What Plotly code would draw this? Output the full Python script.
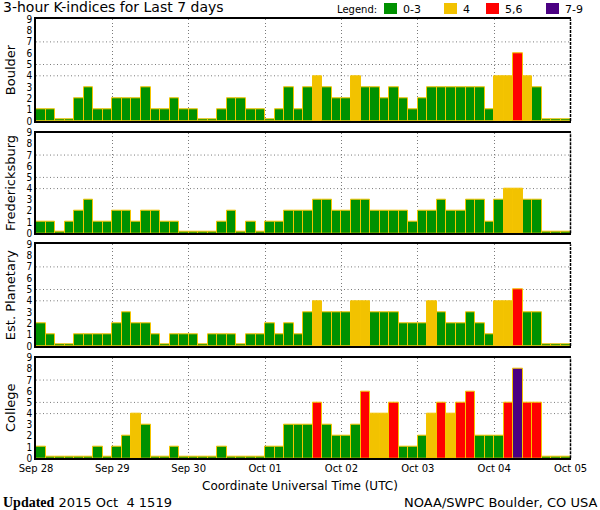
import plotly.graph_objects as go
import pandas as pd

# ---- data (3-hour K-indices, 8 per day, Sep 28 .. Oct 04) ----
day_labels = ["Sep 28", "Sep 29", "Sep 30", "Oct 01", "Oct 02", "Oct 03", "Oct 04", "Oct 05"]
start_day = "2015-09-28"

boulder = [1, 1, 0, 0, 2, 3, 1, 1,
           2, 2, 2, 3, 1, 1, 2, 1,
           1, 0, 0, 1, 2, 2, 1, 1,
           0, 1, 3, 1, 3, 4, 3, 2,
           2, 4, 3, 3, 2, 3, 2, 1,
           2, 3, 3, 3, 3, 3, 3, 1,
           4, 4, 6, 4, 3, 0, 0, 0]
fredericksburg = [1, 1, 0, 1, 2, 3, 1, 1,
                  2, 2, 1, 2, 2, 1, 1, 0,
                  0, 0, 0, 1, 2, 0, 1, 0,
                  1, 1, 2, 2, 2, 3, 3, 2,
                  2, 3, 3, 2, 2, 2, 2, 1,
                  2, 2, 3, 2, 2, 3, 3, 1,
                  3, 4, 4, 3, 3, 0, 0, 0]
planetary = [2, 1, 0, 0, 1, 1, 1, 1,
             2, 3, 2, 2, 1, 0, 1, 1,
             1, 0, 1, 1, 1, 0, 1, 1,
             2, 1, 2, 1, 3, 4, 3, 3,
             3, 4, 4, 3, 3, 3, 2, 2,
             2, 4, 3, 2, 2, 3, 2, 1,
             4, 4, 5, 3, 3, 0, 0, 0]
college = [1, 0, 0, 0, 0, 0, 1, 0,
           1, 2, 4, 3, 0, 0, 1, 0,
           0, 0, 0, 1, 0, 0, 0, 0,
           1, 1, 3, 3, 3, 5, 3, 2,
           2, 3, 6, 4, 4, 5, 1, 1,
           2, 4, 5, 4, 5, 6, 2, 2,
           2, 5, 8, 5, 5, 0, 0, 0]

station_names = ["Boulder", "Fredericksburg", "Est. Planetary", "College"]
station_values = [boulder, fredericksburg, planetary, college]
y_ticks = [0, 1, 2, 3, 4, 5, 6, 7, 8, 9]
grid_levels = [4, 5, 7]

legend_labels = ["0-3", "4", "5,6", "7-9"]

# ---- styles ----
GREEN = "#009100"
YELLOW = "#f2c200"
RED = "#ff0000"
PURPLE = "#4b0082"
legend_colors = [GREEN, YELLOW, RED, PURPLE]
OUTLINE = "#f5c400"
GRID = "#7a7a7a"
DOT = "1px,2.5px"
FONT = "DejaVu Sans"


def kcolor(v):
    if v <= 3:
        return GREEN
    if v == 4:
        return YELLOW
    if v <= 6:
        return RED
    return PURPLE


times = pd.date_range(start_day, periods=56, freq="3h") + pd.Timedelta(hours=1.5)
day_ticks = pd.date_range(start_day, periods=8, freq="D")
x_start, x_end = day_ticks[0], day_ticks[-1]
bar_width_ms = 3 * 3600 * 1000

W, H = 600, 510
x_dom = [36 / W, 570.5 / W]
# panel top/bottom in pixels
panel_px = [(19.3, 121.0), (132.7, 233.3), (244.3, 346.0), (357.7, 458.3)]

fig = go.Figure()
shapes = []
annotations = []

for k, (name, vals) in enumerate(zip(station_names, station_values)):
    idx = "" if k == 0 else str(k + 1)
    xa, ya = "x" + idx, "y" + idx
    disp = [v if v > 0 else 0.16 for v in vals]
    fig.add_trace(go.Bar(
        x=times, y=disp, width=bar_width_ms,
        marker=dict(color=[kcolor(v) for v in vals],
                    line=dict(color=OUTLINE, width=1)),
        xaxis=xa, yaxis=ya, showlegend=False,
        customdata=vals, hovertemplate="%{x}<br>K=%{customdata}<extra></extra>",
    ))
    top, bot = panel_px[k]
    y_dom = [1 - bot / H, 1 - top / H]
    last = (k == 3)
    fig.layout["xaxis" + idx] = dict(
        domain=x_dom, anchor=ya, type="date",
        range=[x_start, x_end], automargin=False,
        tickmode="array", tickvals=list(day_ticks), ticktext=day_labels,
        showticklabels=last, ticks="",
        tickfont=dict(family=FONT, size=10, color="black"),
        showgrid=True, gridcolor=GRID, griddash=DOT, gridwidth=1,
        showline=True, linecolor="black", linewidth=1.5, mirror=True,
        zeroline=False, fixedrange=True,
    )
    fig.layout["yaxis" + idx] = dict(
        domain=y_dom, anchor=xa, range=[0, 9], automargin=False,
        tickmode="array", tickvals=y_ticks, ticks="",
        tickfont=dict(family="DejaVu Sans Condensed, DejaVu Sans", size=10, color="black"),
        showgrid=False, zeroline=False,
        showline=True, linecolor="black", linewidth=1.5, mirror=False,
        fixedrange=True,
    )
    for lv in grid_levels:
        shapes.append(dict(type="line", xref=xa + " domain", yref=ya,
                           x0=0, x1=1, y0=lv, y1=lv, layer="below",
                           line=dict(color=GRID, width=1, dash=DOT)))
    # right border (dashed in original)
    shapes.append(dict(type="line", xref=xa + " domain", yref=ya + " domain",
                       x0=1, x1=1, y0=0, y1=1, layer="above",
                       line=dict(color="black", width=1.5, dash="3px,1px")))
    annotations.append(dict(text=name, xref="paper", yref="paper",
                            x=10 / W, y=1 - (top + bot) / 2 / H,
                            textangle=-90, showarrow=False,
                            xanchor="center", yanchor="middle",
                            font=dict(family=FONT, size=13, color="black")))

# title
annotations.append(dict(text="3-hour K-indices for Last 7 days", xref="paper", yref="paper",
                        x=1 / W, y=1 - 7.5 / H, xanchor="left", yanchor="middle",
                        showarrow=False, font=dict(family=FONT, size=14, color="black")))
# legend
annotations.append(dict(text="Legend:", xref="paper", yref="paper",
                        x=335 / W, y=1 - 9 / H, xanchor="left", yanchor="middle",
                        showarrow=False, font=dict(family=FONT, size=10, color="black")))
box_x = [384, 444, 486, 546]
for bx, col, lab in zip(box_x, legend_colors, legend_labels):
    shapes.append(dict(type="rect", xref="paper", yref="paper",
                       x0=bx / W, x1=(bx + 13) / W, y0=1 - 14 / H, y1=1 - 3 / H,
                       fillcolor=col, line=dict(width=0)))
    annotations.append(dict(text=lab, xref="paper", yref="paper",
                            x=(bx + 17) / W, y=1 - 9 / H, xanchor="left", yanchor="middle",
                            showarrow=False, font=dict(family=FONT, size=11, color="black")))

# bottom texts
annotations.append(dict(text="Coordinate Universal Time (UTC)", xref="paper", yref="paper",
                        x=300 / W, y=1 - 486 / H, xanchor="center", yanchor="middle",
                        showarrow=False, font=dict(family=FONT, size=12, color="black")))
annotations.append(dict(
    text="<span style='font-family:Liberation Serif;font-weight:bold;font-size:14px'>Updated</span>"
         " 2015 Oct&nbsp; 4 1519",
    xref="paper", yref="paper",
    x=1 / W, y=1 - 502 / H, xanchor="left", yanchor="middle",
    showarrow=False, font=dict(family=FONT, size=13, color="black")))
annotations.append(dict(text="NOAA/SWPC Boulder, CO USA", xref="paper", yref="paper",
                        x=599 / W, y=1 - 502 / H, xanchor="right", yanchor="middle",
                        showarrow=False, font=dict(family=FONT, size=13, color="black")))

fig.update_layout(
    width=W, height=H, margin=dict(l=0, r=0, t=0, b=0),
    paper_bgcolor="white", plot_bgcolor="white",
    bargap=0, barmode="overlay",
    shapes=shapes, annotations=annotations,
    showlegend=False,
)

fig.write_html("out.html", config={"displayModeBar": False})
